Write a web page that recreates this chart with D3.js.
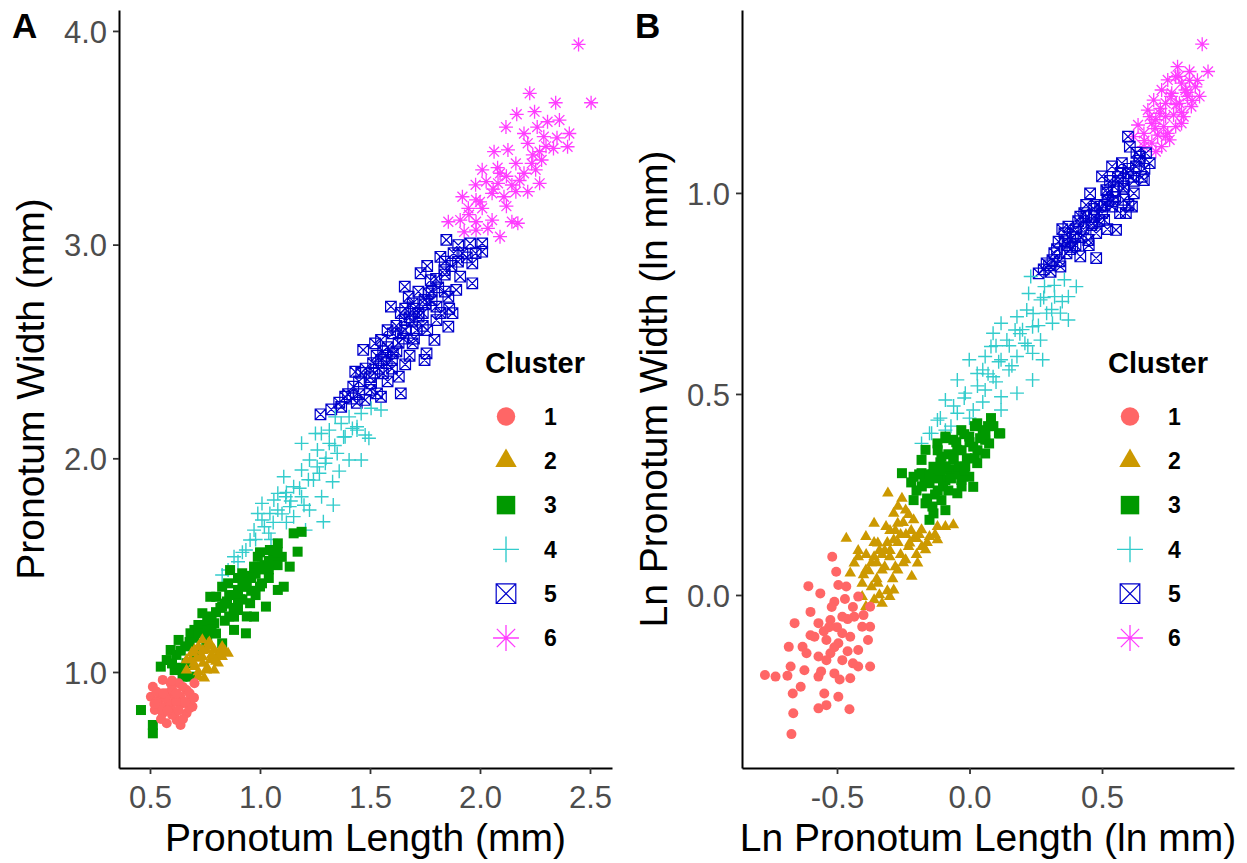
<!DOCTYPE html>
<html>
<head>
<meta charset="utf-8">
<script src="https://cdn.jsdelivr.net/npm/d3@7"></script>
<style>
  body { margin: 0; background: #fff; }
  text { font-family: "Liberation Sans", Arial, sans-serif; }
</style>
</head>
<body>
<svg id="chart" width="1247" height="863"></svg>
<script>
const clusters = ["1", "2", "3", "4", "5", "6"];
const clusterColors = ["#FF6666", "#CC9900", "#009900", "#33CCCC", "#0000CC", "#FF3DFF"];

// Panel A: pronotum length / width (mm)
const xTicksA = [0.5, 1.0, 1.5, 2.0, 2.5];
const yTicksA = [1.0, 2.0, 3.0, 4.0];
const a1 = [[0.513,0.931],[0.504,0.884],[0.522,0.822],[0.558,0.963],[0.576,0.900],[0.594,0.838],[0.576,0.760],[0.621,0.775],
  [0.639,0.752],[0.630,0.947],[0.666,0.916],[0.684,0.869],[0.693,0.838],[0.648,0.853],[0.612,0.884],[0.540,0.869],[0.558,0.807],
  [0.612,0.807],[0.666,0.807],[0.702,0.947],[0.594,0.947],[0.530,0.908],[0.639,0.884],[0.584,0.853],[0.550,0.840],[0.600,0.920],
  [0.650,0.930],[0.570,0.880],[0.620,0.860],[0.680,0.830],[0.530,0.860],[0.520,0.850],[0.560,0.900],[0.600,0.800],[0.630,0.820],
  [0.660,0.860],[0.680,0.900],[0.550,0.780],[0.600,0.960],[0.650,0.780],[0.700,0.880],[0.580,0.820],[0.620,0.900]];
const a2 = [[0.666,1.056],[0.702,1.103],[0.738,1.150],[0.765,1.134],[0.792,1.103],[0.828,1.072],[0.855,1.087],[0.810,1.041],
  [0.756,1.009],[0.720,0.978],[0.702,1.025],[0.684,1.056],[0.738,1.072],[0.774,1.056],[0.756,1.103],[0.720,1.118],[0.792,1.009],
  [0.828,1.118],[0.666,1.009],[0.747,0.971],[0.801,1.072],[0.711,1.064],[0.740,1.040],[0.780,1.080],[0.700,1.040],[0.740,1.100],
  [0.780,1.120],[0.820,1.090],[0.760,1.020],[0.800,1.050],[0.720,1.000],[0.840,1.100],[0.690,1.090],[0.770,1.140],[0.730,1.070]];
const a3 = [[0.459,0.822],[0.513,0.752],[0.513,0.713],[0.549,1.025],[0.594,1.103],[0.630,1.150],[0.612,1.009],[0.666,1.041],
  [0.684,0.978],[0.702,1.197],[0.738,1.275],[0.774,1.352],[0.792,1.228],[0.828,1.306],[0.855,1.415],[0.900,1.384],[0.882,1.259],
  [0.936,1.181],[0.955,1.322],[0.919,1.462],[0.973,1.493],[1.009,1.415],[1.027,1.306],[0.990,1.539],[1.045,1.571],[1.081,1.602],
  [1.063,1.508],[1.099,1.539],[1.135,1.493],[1.171,1.563],[1.153,1.649],[1.189,1.656],[1.108,1.399],[1.081,1.384],[0.828,1.134],
  [0.882,1.197],[0.756,1.134],[0.702,1.103],[0.828,1.399],[0.801,1.352],[0.936,1.399],[1.009,1.493],[0.900,1.290],[0.864,1.477],
  [0.756,1.212],[0.684,1.181],[0.973,1.259],[0.648,0.978],[0.576,1.056],[0.850,1.330],[0.910,1.340],[0.960,1.450],[1.040,1.480],
  [0.620,1.080],[0.660,1.120],[0.700,1.160],[0.740,1.200],[0.780,1.260],[0.800,1.180],[0.840,1.240],[0.860,1.360],[0.880,1.300],
  [0.920,1.340],[0.940,1.420],[0.960,1.380],[0.980,1.460],[1.000,1.400],[1.020,1.500],[1.040,1.440],[1.060,1.540],[1.080,1.500],
  [0.900,1.440],[0.820,1.300],[0.760,1.160],[0.720,1.220],[0.940,1.260],[1.000,1.560],[0.640,1.020],[0.600,1.040],[0.640,1.100],
  [0.680,1.140],[0.720,1.180],[0.760,1.240],[0.800,1.280],[0.840,1.320],[0.880,1.360],[0.920,1.400],[0.960,1.440],[1.000,1.480],
  [1.040,1.520],[1.080,1.560],[0.860,1.260],[0.900,1.320],[0.980,1.360],[0.780,1.200],[0.700,1.080]];
const a4 = [[0.828,1.454],[0.855,1.477],[0.900,1.516],[0.882,1.539],[0.936,1.571],[0.955,1.618],[0.973,1.664],[1.009,1.711],
  [1.009,1.789],[1.045,1.742],[1.063,1.805],[1.081,1.758],[1.117,1.820],[1.135,1.774],[1.108,1.914],[1.153,1.867],[1.189,1.820],
  [1.225,1.758],[1.207,1.664],[1.288,1.703],[1.333,1.781],[1.243,1.898],[1.189,1.945],[1.225,1.992],[1.261,2.039],[1.297,1.977],
  [1.315,2.070],[1.351,2.023],[1.387,2.101],[1.405,1.992],[1.460,1.992],[1.495,2.094],[1.441,2.132],[1.279,2.116],[1.081,1.836],
  [0.990,1.742],[1.153,1.727],[1.189,2.070],[1.252,2.116],[1.315,2.132],[1.369,2.163],[1.405,2.194],[1.460,2.210],[1.505,2.234],
  [1.550,2.226],[1.478,2.109],[1.342,2.194],[1.441,2.148],[1.270,1.930],[1.120,1.700],[1.040,1.650],[1.330,1.890],[0.920,1.560],
  [0.980,1.620],[1.020,1.680],[1.060,1.700],[1.100,1.740],[1.140,1.800],[1.180,1.860],[1.220,1.900],[1.260,1.960],[1.300,2.000],
  [1.340,2.060],[1.380,2.100],[1.420,2.140],[1.120,1.840],[1.200,1.780],[1.280,1.820],[1.360,1.940],[1.050,1.620]];
const a5 = [[1.275,2.206],[1.324,2.229],[1.369,2.241],[1.387,2.288],[1.433,2.405],[1.424,2.335],[1.469,2.507],[1.514,2.445],
  [1.505,2.351],[1.550,2.288],[1.559,2.398],[1.640,2.304],[1.631,2.382],[1.550,2.554],[1.604,2.585],[1.595,2.710],[1.658,2.803],
  [1.694,2.725],[1.658,2.647],[1.712,2.600],[1.757,2.491],[1.793,2.554],[1.802,2.647],[1.856,2.616],[1.875,2.679],[1.730,2.866],
  [1.776,2.834],[1.820,2.943],[1.847,3.022],[1.901,2.998],[1.955,3.006],[2.010,3.006],[2.010,2.967],[1.965,2.912],[1.965,2.819],
  [1.910,2.850],[1.892,2.788],[1.856,2.756],[1.748,2.741],[1.721,2.663],[1.694,2.538],[1.604,2.491],[1.748,2.460],[1.576,2.445],
  [1.523,2.538],[1.766,2.772],[1.838,2.881],[1.802,2.710],[1.640,2.585],[1.676,2.756],[1.532,2.304],[1.478,2.273],[1.600,2.420],
  [1.680,2.480],[1.740,2.620],[1.840,2.780],[1.900,2.920],[1.560,2.500],[1.660,2.700],[1.400,2.300],[1.450,2.360],[1.480,2.420],
  [1.520,2.400],[1.550,2.460],[1.580,2.520],[1.620,2.500],[1.650,2.560],[1.620,2.620],[1.680,2.660],[1.700,2.700],[1.740,2.680],
  [1.780,2.740],[1.720,2.780],[1.760,2.900],[1.800,2.840],[1.840,2.920],[1.880,2.960],[1.940,2.940],[1.980,2.960],[1.660,2.440],
  [1.580,2.360],[1.500,2.320],[1.440,2.260],[1.860,2.700],[1.420,2.280],[1.460,2.400],[1.500,2.380],[1.540,2.420],[1.570,2.480],
  [1.600,2.460],[1.630,2.540],[1.660,2.600],[1.690,2.640],[1.720,2.680],[1.750,2.720],[1.780,2.780],[1.810,2.800],[1.840,2.860],
  [1.870,2.900],[1.920,2.960],[1.700,2.560],[1.760,2.600],[1.820,2.680],[1.640,2.680],[1.580,2.600],[1.530,2.480],[1.360,2.260],
  [1.450,2.300]];
const a6 = [[2.448,3.937],[2.505,3.664],[2.226,3.708],[2.344,3.664],[2.248,3.622],[2.167,3.610],[2.118,3.550],[2.307,3.575],
  [2.361,3.583],[2.406,3.520],[2.398,3.458],[2.290,3.505],[2.217,3.474],[2.271,3.435],[2.334,3.450],[2.064,3.435],[2.127,3.443],
  [2.163,3.380],[2.235,3.380],[2.280,3.396],[2.010,3.350],[2.091,3.334],[2.200,3.334],[2.253,3.350],[2.028,3.295],[2.082,3.287],
  [2.145,3.279],[2.271,3.287],[2.217,3.248],[2.055,3.240],[2.109,3.224],[1.982,3.209],[1.920,3.224],[1.947,3.170],[2.010,3.170],
  [2.163,3.248],[1.856,3.107],[1.910,3.115],[1.982,3.107],[2.055,3.115],[2.145,3.107],[2.172,3.100],[1.928,3.060],[1.982,3.068],
  [2.091,3.037],[2.036,3.076],[1.950,3.140],[2.000,3.200],[2.060,3.260],[2.120,3.320],[2.180,3.300],[2.240,3.420],[2.300,3.460],
  [2.120,3.180],[2.080,3.360],[2.200,3.520],[2.260,3.550],[2.350,3.500],[1.980,3.280]];

// Panel B: ln pronotum length / width
const xTicksB = [-0.5, 0.0, 0.5];
const yTicksB = [0.0, 0.5, 1.0];
const b1 = [[-0.518,0.095],[-0.503,0.058],[-0.608,0.022],[-0.563,0.004],[-0.495,0.025],[-0.465,0.021],[-0.510,-0.017],
  [-0.420,-0.004],[-0.375,-0.029],[-0.600,-0.042],[-0.660,-0.070],[-0.570,-0.070],[-0.525,-0.062],[-0.480,-0.054],[-0.435,-0.054],
  [-0.375,-0.079],[-0.405,-0.079],[-0.682,-0.129],[-0.630,-0.129],[-0.585,-0.104],[-0.540,-0.112],[-0.495,-0.120],[-0.450,-0.104],
  [-0.383,-0.112],[-0.420,-0.137],[-0.480,-0.162],[-0.525,-0.145],[-0.570,-0.153],[-0.615,-0.145],[-0.375,-0.178],[-0.420,-0.178],
  [-0.772,-0.199],[-0.732,-0.203],[-0.687,-0.201],[-0.675,-0.178],[-0.623,-0.187],[-0.570,-0.203],[-0.510,-0.195],[-0.450,-0.207],
  [-0.637,-0.228],[-0.667,-0.245],[-0.548,-0.245],[-0.495,-0.253],[-0.570,-0.282],[-0.540,-0.274],[-0.453,-0.284],[-0.665,-0.294],
  [-0.672,-0.346],[-0.540,-0.162],[-0.480,-0.095],[-0.500,-0.080],[-0.460,-0.140],[-0.550,-0.090],[-0.440,-0.030],[-0.530,-0.080],
  [-0.460,-0.060],[-0.510,-0.130],[-0.440,-0.170],[-0.560,-0.190],[-0.600,-0.100],[-0.400,-0.050],[-0.490,-0.210],[-0.520,-0.030],
  [-0.470,-0.010]];
const b2 = [[-0.465,0.141],[-0.308,0.253],[-0.255,0.240],[-0.286,0.203],[-0.241,0.211],[-0.360,0.178],[-0.315,0.170],
  [-0.271,0.178],[-0.211,0.187],[-0.181,0.162],[-0.121,0.170],[-0.061,0.174],[-0.091,0.170],[-0.151,0.145],[-0.121,0.137],
  [-0.391,0.145],[-0.346,0.129],[-0.286,0.137],[-0.226,0.129],[-0.166,0.112],[-0.420,0.095],[-0.360,0.095],[-0.301,0.095],
  [-0.241,0.087],[-0.435,0.079],[-0.391,0.062],[-0.330,0.062],[-0.271,0.062],[-0.218,0.046],[-0.405,0.029],[-0.346,0.029],
  [-0.286,0.012],[-0.405,-0.004],[-0.360,-0.012],[-0.330,-0.021],[-0.391,-0.029],[-0.301,-0.004],[-0.450,0.054],[-0.196,0.079],
  [-0.320,0.110],[-0.260,0.150],[-0.200,0.140],[-0.400,0.050],[-0.370,0.080],[-0.340,0.110],[-0.310,0.130],[-0.280,0.160],
  [-0.250,0.180],[-0.220,0.160],[-0.190,0.150],[-0.160,0.130],[-0.350,0.040],[-0.320,0.070],[-0.290,0.040],[-0.260,0.100],
  [-0.230,0.120],[-0.200,0.100],[-0.370,0.020],[-0.420,0.110],[-0.270,0.220],[-0.130,0.150],[-0.310,0.010],[-0.380,0.060],
  [-0.350,0.080],[-0.330,0.100],[-0.300,0.110],[-0.270,0.130],[-0.240,0.150],[-0.210,0.140],[-0.180,0.120],[-0.360,0.130],
  [-0.300,0.160],[-0.250,0.080],[-0.340,0.000],[-0.280,0.070],[-0.390,0.100],[-0.230,0.200]];
const b3 = [[0.081,0.440],[0.116,0.402],[0.029,0.427],[-0.031,0.410],[-0.091,0.394],[0.111,0.402],[0.059,0.386],[-0.001,0.394],
  [-0.061,0.386],[-0.121,0.377],[-0.166,0.361],[-0.106,0.344],[-0.046,0.361],[0.014,0.369],[0.059,0.352],[0.029,0.328],
  [-0.016,0.319],[-0.076,0.311],[-0.136,0.319],[-0.181,0.303],[-0.255,0.303],[-0.211,0.294],[-0.151,0.278],[-0.091,0.286],
  [-0.031,0.286],[0.014,0.269],[-0.001,0.294],[-0.046,0.253],[-0.106,0.236],[-0.166,0.228],[-0.211,0.236],[-0.136,0.203],
  [-0.091,0.211],[-0.151,0.187],[0.074,0.377],[-0.181,0.336],[-0.061,0.336],[-0.120,0.260],[-0.050,0.300],[-0.200,0.260],
  [-0.170,0.280],[-0.140,0.300],[-0.110,0.330],[-0.080,0.350],[-0.050,0.380],[-0.020,0.400],[0.020,0.420],[0.050,0.410],
  [-0.130,0.250],[-0.100,0.270],[-0.070,0.290],[-0.040,0.320],[-0.010,0.340],[0.030,0.360],[0.060,0.400],[-0.160,0.240],
  [-0.090,0.390],[-0.030,0.270],[0.090,0.420],[-0.190,0.300],[-0.120,0.360],[-0.180,0.270],[-0.150,0.300],[-0.120,0.290],
  [-0.090,0.320],[-0.060,0.340],[-0.030,0.360],[0.000,0.380],[0.040,0.390],[0.070,0.420],[-0.140,0.220],[-0.080,0.260],
  [-0.110,0.310],[-0.020,0.310],[0.020,0.340],[-0.220,0.280]];
const b4 = [[0.231,0.792],[0.283,0.767],[0.358,0.784],[0.403,0.767],[0.223,0.750],[0.268,0.734],[0.321,0.742],[0.373,0.742],
  [0.216,0.709],[0.291,0.701],[0.343,0.701],[0.179,0.692],[0.172,0.659],[0.238,0.667],[0.313,0.676],[0.119,0.676],[0.089,0.651],
  [0.081,0.618],[0.141,0.634],[0.209,0.626],[0.268,0.634],[0.373,0.684],[-0.001,0.585],[0.059,0.593],[0.119,0.585],[0.179,0.593],
  [0.238,0.601],[0.276,0.585],[-0.046,0.535],[0.029,0.551],[0.089,0.543],[0.149,0.560],[0.238,0.535],[-0.091,0.485],
  [-0.016,0.502],[0.059,0.510],[0.119,0.493],[0.179,0.502],[-0.121,0.435],[-0.046,0.452],[0.014,0.460],[0.119,0.460],
  [-0.151,0.402],[-0.091,0.410],[-0.181,0.377],[-0.143,0.402],[0.200,0.660],[0.050,0.560],[0.100,0.620],[-0.110,0.440],
  [-0.060,0.470],[-0.020,0.490],[0.030,0.520],[0.070,0.550],[0.110,0.580],[0.150,0.620],[0.190,0.650],[0.240,0.700],
  [0.280,0.740],[0.320,0.770],[0.050,0.480],[0.100,0.530],[0.160,0.570],[0.220,0.620],[0.260,0.670],[0.310,0.710],[0.350,0.730],
  [-0.070,0.420],[0.000,0.440]];
const b5 = [[0.261,0.800],[0.306,0.804],[0.313,0.833],[0.343,0.817],[0.336,0.879],[0.373,0.916],[0.388,0.866],[0.418,0.842],
  [0.478,0.838],[0.433,0.950],[0.455,0.999],[0.478,0.900],[0.508,0.933],[0.493,0.966],[0.523,0.983],[0.500,1.041],[0.545,1.016],
  [0.553,0.908],[0.568,0.950],[0.613,0.966],[0.620,0.999],[0.583,1.016],[0.598,1.049],[0.575,1.074],[0.628,1.066],[0.666,1.099],
  [0.680,1.074],[0.658,1.032],[0.598,1.140],[0.605,1.115],[0.538,1.066],[0.448,0.883],[0.403,0.900],[0.366,0.850],[0.463,0.925],
  [0.538,0.966],[0.516,1.007],[0.291,0.825],[0.358,0.900],[0.418,0.941],[0.583,0.983],[0.643,1.090],[0.400,0.870],[0.470,0.960],
  [0.560,1.040],[0.280,0.810],[0.320,0.850],[0.360,0.880],[0.400,0.910],[0.440,0.940],[0.480,0.970],[0.520,1.000],[0.560,1.030],
  [0.600,1.060],[0.640,1.080],[0.340,0.830],[0.380,0.860],[0.420,0.890],[0.460,0.920],[0.500,0.950],[0.540,0.980],[0.580,1.010],
  [0.620,1.030],[0.660,1.060],[0.450,0.870],[0.520,0.910],[0.600,0.970],[0.300,0.820],[0.330,0.860],[0.370,0.870],[0.390,0.890],
  [0.430,0.910],[0.470,0.940],[0.490,0.930],[0.510,0.970],[0.550,0.990],[0.570,1.050],[0.610,1.040],[0.630,1.100],[0.650,1.040],
  [0.440,0.970],[0.530,1.030],[0.410,0.930],[0.350,0.910],[0.590,0.950]];
const b6 = [[0.878,1.370],[0.900,1.302],[0.785,1.314],[0.830,1.302],[0.778,1.289],[0.748,1.281],[0.800,1.273],[0.852,1.264],
  [0.868,1.240],[0.725,1.256],[0.763,1.248],[0.823,1.240],[0.695,1.231],[0.740,1.223],[0.792,1.223],[0.837,1.215],[0.673,1.206],
  [0.718,1.198],[0.770,1.194],[0.808,1.190],[0.636,1.169],[0.688,1.173],[0.733,1.165],[0.778,1.165],[0.658,1.148],[0.710,1.144],
  [0.755,1.132],[0.620,1.140],[0.688,1.124],[0.725,1.115],[0.658,1.115],[0.703,1.103],[0.748,1.148],[0.815,1.256],[0.703,1.182],
  [0.800,1.173],[0.660,1.130],[0.700,1.160],[0.740,1.190],[0.780,1.220],[0.820,1.250],[0.860,1.280],[0.720,1.210],[0.760,1.240],
  [0.800,1.200],[0.840,1.230],[0.680,1.190],[0.740,1.140],[0.790,1.290],[0.830,1.280]];

const svg = d3.select("#chart");
const tickFmt = d => d3.format(".1f")(d).replace("\u2212", "-");

// one marker shape per cluster: circle, triangle, square, plus, crossed box, asterisk
function drawShape(g, k, color, s) {
    if (k === 0) {
        g.append("circle").attr("r", 5 * s).attr("fill", color);
    } else if (k === 1) {
        const w = 5.8 * s, h = 10 * s;
        g.append("path").attr("d", `M0,${-h * 2 / 3}L${w},${h / 3}L${-w},${h / 3}Z`).attr("fill", color);
    } else if (k === 2) {
        const a = 5 * s;
        g.append("rect").attr("x", -a).attr("y", -a).attr("width", 2 * a).attr("height", 2 * a).attr("fill", color);
    } else if (k === 3) {
        const a = 7 * s;
        g.append("path").attr("d", `M${-a},0H${a}M0,${-a}V${a}`)
            .attr("stroke", color).attr("stroke-width", 1.4).attr("fill", "none");
    } else if (k === 4) {
        const a = 5.3 * s;
        g.append("path").attr("d", `M${-a},${-a}H${a}V${a}H${-a}ZM${-a},${-a}L${a},${a}M${a},${-a}L${-a},${a}`)
            .attr("stroke", color).attr("stroke-width", 1.2).attr("fill", "none");
    } else {
        const a = 7 * s, d = a * Math.SQRT1_2;
        g.append("path").attr("d", `M${-a},0H${a}M0,${-a}V${a}M${-d},${-d}L${d},${d}M${d},${-d}L${-d},${d}`)
            .attr("stroke", color).attr("stroke-width", 1.3).attr("fill", "none");
    }
}

function drawPanel(p) {
    const x = d3.scaleLinear().domain(p.xDomain).range([p.left, p.right]);
    const y = d3.scaleLinear().domain(p.yDomain).range([p.bottom, p.top]);

    // points, drawn from cluster 6 down to 1
    for (let k = p.series.length - 1; k >= 0; k--) {
        svg.append("g").selectAll("g")
            .data(p.series[k])
            .enter().append("g")
            .attr("transform", d => `translate(${x(d[0])},${y(d[1])})`)
            .each(function () { drawShape(d3.select(this), k, clusterColors[k], 1); });
    }

    const xAxis = svg.append("g")
        .attr("transform", `translate(0,${p.bottom})`)
        .call(d3.axisBottom(x).tickValues(p.xTicks).tickFormat(tickFmt).tickSize(6).tickSizeOuter(0));
    const yAxis = svg.append("g")
        .attr("transform", `translate(${p.left},0)`)
        .call(d3.axisLeft(y).tickValues(p.yTicks).tickFormat(tickFmt).tickSize(6).tickSizeOuter(0));

    [xAxis, yAxis].forEach(ax => {
        ax.select(".domain").attr("stroke", "#000").attr("stroke-width", 2);
        ax.selectAll(".tick line").attr("stroke", "#333").attr("stroke-width", 1.8);
        ax.selectAll(".tick text").attr("fill", "#4D4D4D").style("font-size", "31px")
            .style("font-family", "'Liberation Sans', Arial, sans-serif");
    });
    xAxis.selectAll(".tick text").attr("dy", null).attr("y", 40);
    yAxis.selectAll(".tick text").attr("x", -12).attr("dy", "0.36em");

    // axis titles
    svg.append("text")
        .attr("x", (p.left + p.right) / 2).attr("y", 851)
        .attr("text-anchor", "middle").style("font-size", "39px").attr("fill", "#000")
        .text(p.xTitle);
    svg.append("text")
        .attr("transform", `translate(${p.left - 75},${(p.top + p.bottom) / 2}) rotate(-90)`)
        .attr("text-anchor", "middle").style("font-size", "39px").attr("fill", "#000")
        .text(p.yTitle);

    // panel tag
    svg.append("text")
        .attr("x", p.left - 107).attr("y", 38)
        .style("font-size", "35px").style("font-weight", "bold")
        .text(p.tag);

    // legend
    const lg = svg.append("g").attr("transform", `translate(${p.legendX},0)`);
    lg.append("text").attr("x", 0).attr("y", 373)
        .style("font-size", "29px").style("font-weight", "bold").text("Cluster");
    clusters.forEach((c, k) => {
        const ry = 416.5 + k * 44.3;
        const key = lg.append("g").attr("transform", `translate(${p.legendKeyX},${ry})`);
        drawShape(key, k, clusterColors[k], 1.85);
        lg.append("text").attr("x", p.legendKeyX + 38).attr("y", ry).attr("dy", "0.36em")
            .style("font-size", "23px").style("font-weight", "bold").text(c);
    });
}

drawPanel({
    tag: "A",
    left: 119, right: 612, top: 10, bottom: 768,
    xDomain: [0.3591, 2.6], yDomain: [0.5507, 4.098],
    xTicks: xTicksA, yTicks: yTicksA,
    series: [a1, a2, a3, a4, a5, a6],
    xTitle: "Pronotum Length (mm)", yTitle: "Pronotum Width (mm)",
    legendX: 485, legendKeyX: 21
});

drawPanel({
    tag: "B",
    left: 742, right: 1234, top: 10, bottom: 768,
    xDomain: [-0.8585, 0.998], yDomain: [-0.4303, 1.455],
    xTicks: xTicksB, yTicks: yTicksB,
    series: [b1, b2, b3, b4, b5, b6],
    xTitle: "Ln Pronotum Length (ln mm)", yTitle: "Ln Pronotum Width (ln mm)",
    legendX: 1108, legendKeyX: 22
});
</script>
</body>
</html>
